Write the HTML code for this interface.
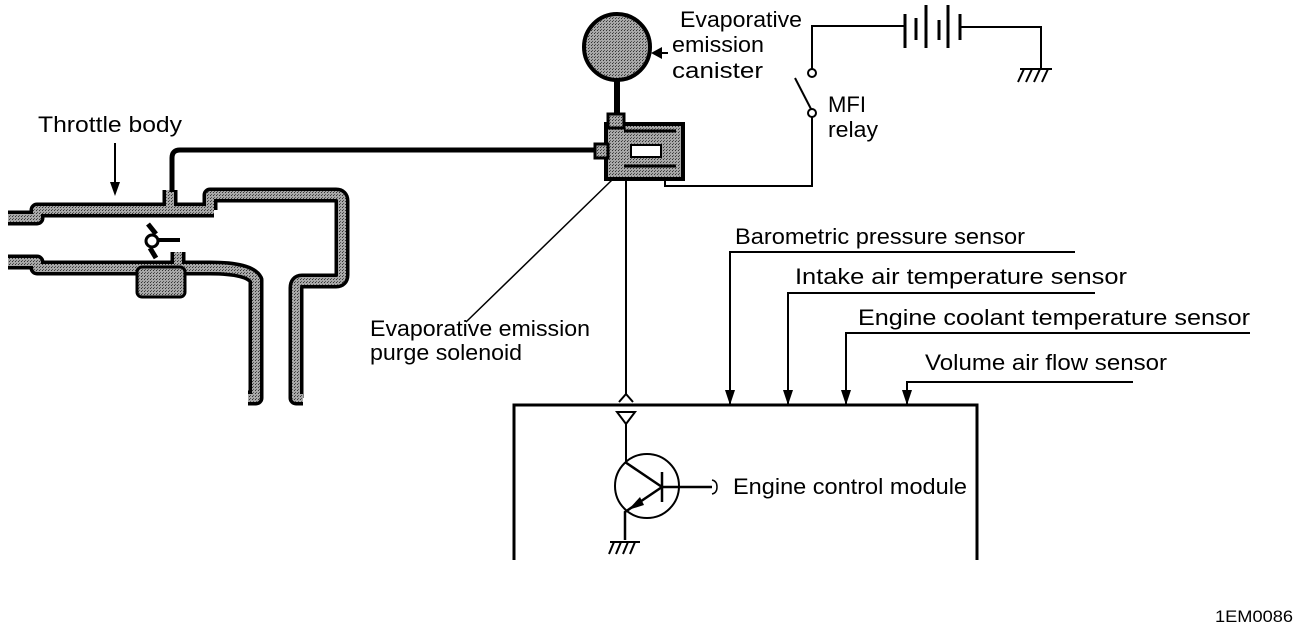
<!DOCTYPE html>
<html><head><meta charset="utf-8"><style>
html,body{margin:0;padding:0;background:#fff;}
svg{display:block}
text{font-family:"Liberation Sans",sans-serif;font-size:22px;fill:#000}
</style></head><body>
<svg width="1312" height="628" viewBox="0 0 1312 628" xmlns="http://www.w3.org/2000/svg">
<defs>
<pattern id="dots" width="3" height="3" patternUnits="userSpaceOnUse">
<rect width="3" height="3" fill="#a8a8a8"/><rect width="1" height="1" fill="#333"/><rect x="1" y="2" width="1" height="1" fill="#555"/>
</pattern>
</defs>
<!-- throttle body -->
<g fill="none" stroke-linejoin="round" stroke-linecap="butt">
<g stroke="#000" stroke-width="15">
<path d="M8,218 H37 V210 H214"/>
<path d="M210,210 V195 H336 Q342,195 342,201 V275 Q342,281 336,281 H302 Q296,281 296,288 V398 H303"/>
<path d="M8,262 H37 V268 H210 Q250,268 256,280 V398 H248"/>
<path d="M170,210 V190"/>
<path d="M178,268 V252"/>
</g>
<g stroke="url(#dots)" stroke-width="8">
<path d="M8,218 H37 V210 H214"/>
<path d="M210,210 V195 H336 Q342,195 342,201 V275 Q342,281 336,281 H302 Q296,281 296,288 V398 H303"/>
<path d="M8,262 H37 V268 H210 Q250,268 256,280 V398 H248"/>
<path d="M170,210 V190"/>
<path d="M178,268 V252"/>
</g>
</g>
<rect x="137" y="267" width="48" height="30" rx="5" fill="url(#dots)" stroke="#000" stroke-width="3"/>
<!-- butterfly -->
<circle cx="152" cy="241" r="6" fill="#fff" stroke="#000" stroke-width="3"/>
<path d="M148,224 L156,234 M150,248 L156,258" stroke="#000" stroke-width="5"/>
<path d="M158,240 H180" stroke="#000" stroke-width="4"/>
<!-- vacuum hose -->
<path d="M172,192 V158 Q172,150 180,150 H600" fill="none" stroke="#000" stroke-width="5"/>
<path d="M115,143 V185" stroke="#000" stroke-width="2"/>
<path d="M110,182 L115,196 L120,182 Z"/>
<text x="38" y="132" textLength="144" lengthAdjust="spacingAndGlyphs">Throttle body</text>
<!-- canister -->
<circle cx="617" cy="47" r="33" fill="url(#dots)" stroke="#000" stroke-width="4"/>
<path d="M617,80 V118" stroke="#000" stroke-width="6"/>
<path d="M651,53 L662,47 L662,59 Z"/><path d="M660,53 H668" stroke="#000" stroke-width="2"/>
<text x="680" y="27" textLength="122" lengthAdjust="spacingAndGlyphs">Evaporative</text>
<text x="672" y="52" textLength="92" lengthAdjust="spacingAndGlyphs">emission</text>
<text x="672" y="78" textLength="91" lengthAdjust="spacingAndGlyphs">canister</text>
<!-- solenoid -->
<rect x="606" y="124" width="77" height="55" fill="url(#dots)" stroke="#000" stroke-width="4"/>
<rect x="608" y="114" width="16" height="14" fill="url(#dots)" stroke="#000" stroke-width="3"/>
<rect x="595" y="144" width="13" height="14" fill="url(#dots)" stroke="#000" stroke-width="3"/>
<path d="M624,131 H676 M624,166 H676" stroke="#000" stroke-width="3"/>
<rect x="631" y="145" width="30" height="12" fill="#fff" stroke="#000" stroke-width="2"/>
<!-- relay -->
<path d="M665,180 V186 H812 V117" fill="none" stroke="#000" stroke-width="2"/>
<circle cx="812" cy="113" r="4" fill="#fff" stroke="#000" stroke-width="2"/>
<path d="M795,78 L811,109" stroke="#000" stroke-width="2"/>
<circle cx="812" cy="73" r="4" fill="#fff" stroke="#000" stroke-width="2"/>
<path d="M812,69 V26 H905" fill="none" stroke="#000" stroke-width="2"/>
<path d="M905,14 V48 M916,18 V40 M926,5 V48 M939,20 V40 M948,5 V48 M960,14 V40" stroke="#000" stroke-width="3"/>
<path d="M960,27 H1041 V68" fill="none" stroke="#000" stroke-width="2"/>
<path d="M1020,69 H1052 M1024,69 L1018,82 M1032,69 L1026,82 M1040,69 L1034,82 M1048,69 L1042,82" stroke="#000" stroke-width="2"/>
<text x="828" y="112" textLength="38" lengthAdjust="spacingAndGlyphs">MFI</text>
<text x="828" y="137" textLength="50" lengthAdjust="spacingAndGlyphs">relay</text>
<!-- solenoid leader -->
<path d="M612,180 L466,322" stroke="#000" stroke-width="1.5"/>
<text x="370" y="336" textLength="220" lengthAdjust="spacingAndGlyphs">Evaporative emission</text>
<text x="370" y="360" textLength="152" lengthAdjust="spacingAndGlyphs">purge solenoid</text>
<!-- signal line to ECM -->
<path d="M626,180 V395" stroke="#000" stroke-width="2"/>
<path d="M619,402 L626,394 L633,402" fill="none" stroke="#000" stroke-width="2"/>
<path d="M617,412 H635 L626,424 Z" fill="#fff" stroke="#000" stroke-width="2"/>
<path d="M626,424 V462" stroke="#000" stroke-width="2"/>
<!-- ECM box -->
<path d="M514,560 V405 H977 V560" fill="none" stroke="#000" stroke-width="3"/>
<!-- transistor -->
<circle cx="647" cy="486" r="32" fill="none" stroke="#000" stroke-width="2"/>
<path d="M625,462 L662,487 M662,472 V502 M662,487 H712" stroke="#000" stroke-width="2.5" fill="none"/>
<path d="M662,487 L625,512 V540" stroke="#000" stroke-width="2.5" fill="none"/>
<path d="M628,510 L640,497 L644,505 Z"/>
<path d="M610,542 H640 M614,542 L609,554 M621,542 L616,554 M628,542 L623,554 M635,542 L630,554" stroke="#000" stroke-width="2"/>
<path d="M712,480 Q717,481 717,487 Q717,493 712,494" fill="none" stroke="#000" stroke-width="1.5"/>
<text x="733" y="494" textLength="234" lengthAdjust="spacingAndGlyphs">Engine control module</text>
<!-- sensors -->
<g stroke="#000" stroke-width="2" fill="none">
<path d="M730,405 V252 H1075"/>
<path d="M788,405 V293 H1095"/>
<path d="M846,405 V333 H1250"/>
<path d="M907,405 V382 H1133"/>
</g>
<path d="M725,390 L730,405 L735,390 Z M783,390 L788,405 L793,390 Z M841,390 L846,405 L851,390 Z M902,390 L907,405 L912,390 Z"/>
<text x="735" y="244" textLength="290" lengthAdjust="spacingAndGlyphs">Barometric pressure sensor</text>
<text x="795" y="284" textLength="332" lengthAdjust="spacingAndGlyphs">Intake air temperature sensor</text>
<text x="858" y="325" textLength="392" lengthAdjust="spacingAndGlyphs">Engine coolant temperature sensor</text>
<text x="925" y="370" textLength="242" lengthAdjust="spacingAndGlyphs">Volume air flow sensor</text>
<text x="1215" y="622" textLength="78" lengthAdjust="spacingAndGlyphs" style="font-size:17px">1EM0086</text>
</svg>
</body></html>
